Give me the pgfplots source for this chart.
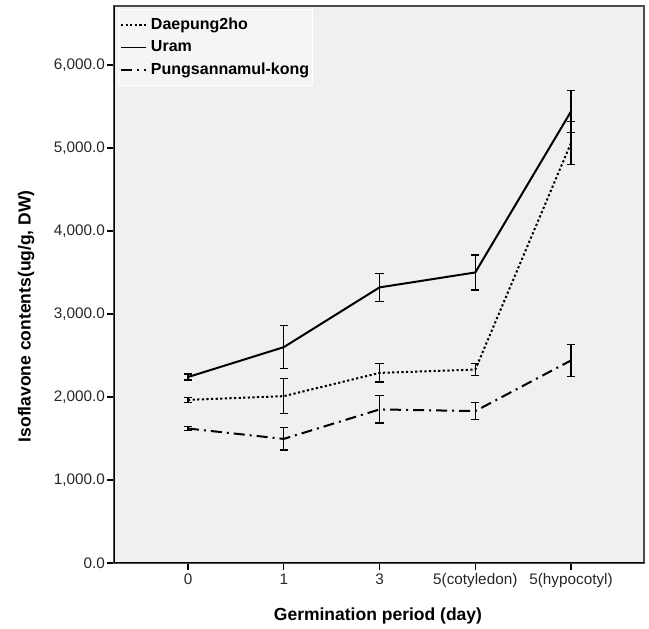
\documentclass[border=0pt]{standalone}
\usepackage{fontspec}
\setmainfont{Liberation Sans}
\usepackage{pgfplots}
\usepackage{pgfplotstable}
\pgfplotsset{compat=1.18}
\definecolor{plotbg}{RGB}{240,240,240}
\definecolor{legbg}{RGB}{245,245,245}
\pgfplotstableread{
x y e
0 1965 30
1 2010 210
2 2290 110
3 2330 75
4 5060 260
}\daepung
\pgfplotstableread{
x y e
0 2240 35
1 2600 260
2 3320 170
3 3500 210
4 5440 255
}\uram
\pgfplotstableread{
x y e
0 1620 25
1 1495 135
2 1850 165
3 1830 100
4 2440 195
}\pung
\begin{document}
\begin{tikzpicture}
\begin{axis}[
  at={(114bp,66bp)}, anchor=south west,
  scale only axis, width=530bp, height=557bp,
  xmin=-0.773, xmax=4.762, ymin=0, ymax=6710,
  axis background/.style={fill=plotbg},
  axis line style={draw=black!70, line width=1.2bp},
  xtick={0,1,2,3,4},
  xticklabels={0,1,3,5(cotyledon),5(hypocotyl)},
  ytick={0,1000,2000,3000,4000,5000,6000},
  xtick pos=bottom, ytick pos=left,
  tick align=outside, major tick length=7bp,
  tick style={black, line width=1.2bp},
  ticklabel style={font=\fontsize{15.3bp}{18bp}\selectfont, text=black!85},
  yticklabel style={inner sep=2bp},
  /pgf/number format/.cd, fixed, fixed zerofill, precision=1, 1000 sep={,}, assume math mode=true,
  /pgfplots/.cd,
  scaled y ticks=false,
  xlabel={Germination period (day)},
  ylabel={Isoflavone contents(ug/g, DW)},
  every axis x label/.style={at={(axis description cs:0.498,-0.095)}, anchor=center, font=\fontsize{17.5bp}{20bp}\selectfont\bfseries},
  every axis y label/.style={at={(axis description cs:-0.166,0.443)}, anchor=center, rotate=90, font=\fontsize{17.5bp}{20bp}\selectfont\bfseries},
  legend style={at={(axis description cs:0.0075,0.9946)}, anchor=north west,
    fill=legbg, draw=white, font=\fontsize{16bp}{18bp}\selectfont\bfseries,
    inner xsep=2bp, inner ysep=7bp, row sep=5bp, column sep=3bp,
    nodes={inner sep=1bp, text height=12bp, text depth=3.5bp}},
  legend cell align=left,
  legend image code/.code={\draw[#1, line width=1.8bp] (2bp,0bp) -- (27bp,0bp);},
  error bars/error bar style={line width=1.1bp, black, solid},
  error bars/error mark options={rotate=90, mark size=4.2bp, line width=1.3bp, black, solid},
]
\addplot[black, line width=2bp, dash pattern=on 2.2bp off 2.4bp, mark=none,
  error bars/.cd, y dir=both, y explicit]
  table[x=x, y=y, y error=e] {\daepung};
\addlegendentry{Daepung2ho}
\addplot[black, line width=2bp, mark=none,
  error bars/.cd, y dir=both, y explicit]
  table[x=x, y=y, y error=e] {\uram};
\addlegendentry{Uram}
\addplot[black, line width=2bp, dash pattern=on 11bp off 5bp on 2bp off 5bp, mark=none,
  error bars/.cd, y dir=both, y explicit]
  table[x=x, y=y, y error=e] {\pung};
\addlegendentry{Pungsannamul-kong}
\draw[black, line width=2bp] (rel axis cs:0,1) -- (rel axis cs:0,0) -- (rel axis cs:1,0);
\end{axis}
\pgfresetboundingbox
\useasboundingbox (0,0) rectangle (649bp,629bp);
\end{tikzpicture}
\end{document}
